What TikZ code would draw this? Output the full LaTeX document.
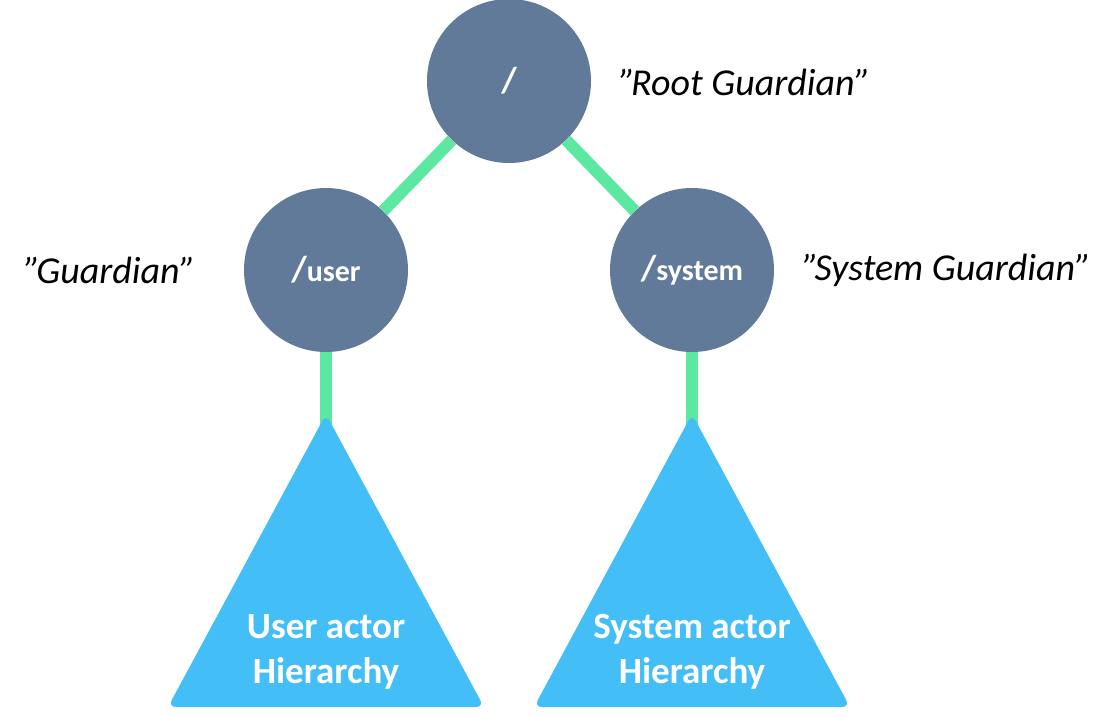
\documentclass[tikz,border=0pt]{standalone}
\usepackage{fontspec}
\setmainfont{Carlito}
\definecolor{guardfill}{RGB}{97,122,153}
\definecolor{linkgreen}{RGB}{92,232,160}
\definecolor{treefill}{RGB}{67,190,246}
\tikzset{
	guard/.style={circle,fill=guardfill,minimum size=164pt,inner sep=0pt,text=white,font=\bfseries\fontsize{30}{36}\selectfont},
	link/.style={draw=linkgreen,line width=12pt},
	tree/.style={fill=treefill,rounded corners=8pt},
	treetext/.style={text=white,align=center,font=\bfseries\fontsize{37}{45}\selectfont},
	role/.style={font=\itshape\fontsize{38}{44}\selectfont}
}
\newcommand{\bigslash}{{\fontsize{36}{40}\selectfont /}}
\begin{document}
\begin{tikzpicture}[x=1pt,y=-1pt]
	\useasboundingbox (0,0) rectangle (1114,716);

	% guardians
	\node[guard] (root) at (509,81) {\bigslash};
	\node[guard] (user) at (326,270) {\bigslash user};
	\node[guard] (system) at (692,270) {\bigslash system};

	\node[role] (rootrole) at (745,82) {”\kern-4pt Root Guardian”};
	\node[role] (userrole) at (110,270) {”\kern-4pt Guardian”};
	\node[role] (systemrole) at (947,270) {”\kern-4pt System Guardian”};

	% tops of the hierarchies
	\coordinate (usertop) at (326,430);
	\coordinate (systemtop) at (692,430);

	\draw[link] (root) -- (user);
	\draw[link] (root) -- (system);
	\draw[link] (user) -- (usertop);
	\draw[link] (system) -- (systemtop);

	% koniec linii
	\fill[tree] (326,414) -- (484,707) -- (168,707) -- cycle;
	\fill[tree] (692,414) -- (850,707) -- (534,707) -- cycle;

	\node[treetext] (usertree) at (326,652) {User actor\\Hierarchy};
	\node[treetext] (systemtree) at (692,652) {System actor\\Hierarchy};
\end{tikzpicture}
\end{document}
